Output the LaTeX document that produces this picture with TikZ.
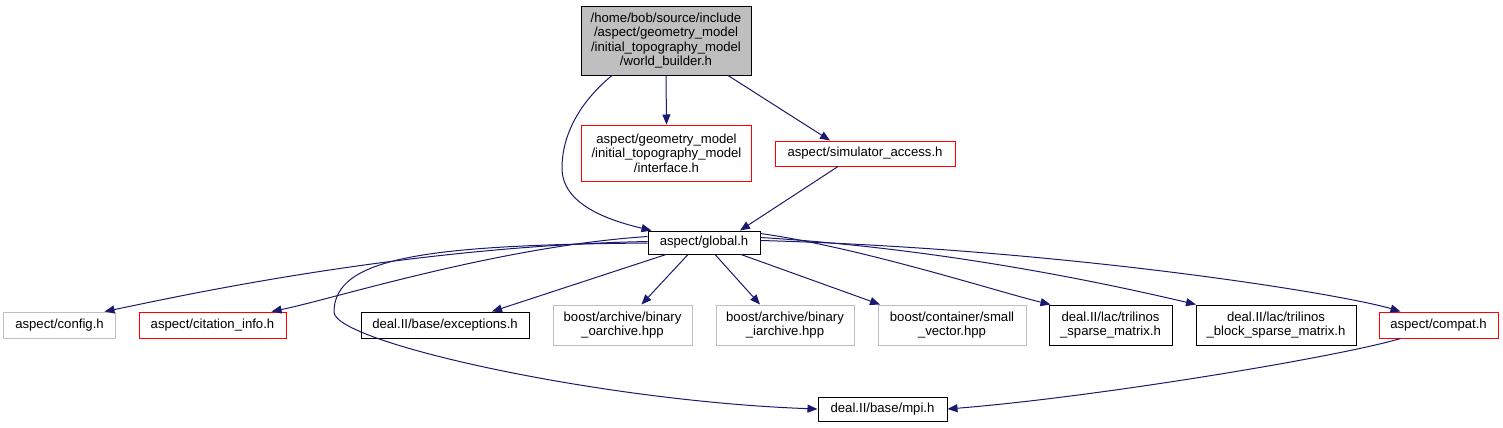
\documentclass[tikz,border=0pt]{standalone}
\usepackage{fontspec}
\setmainfont{Liberation Sans}
\usetikzlibrary{arrows.meta}
\definecolor{edgeblue}{HTML}{191970}
\definecolor{lgray}{HTML}{BFBFBF}
\definecolor{dred}{HTML}{FF0000}
\begin{document}
\begin{tikzpicture}[x=1bp,y=-1bp,
  box/.style={draw,line width=1bp,inner sep=0pt,align=center,font=\fontsize{13.2}{14.4}\selectfont},
  blk/.style={box,draw=black},
  gry/.style={box,draw=lgray},
  rd/.style={box,draw=dred},
  edge/.style={draw=edgeblue,line width=1bp,-{Triangle[length=10bp,width=8bp]},fill=none},
]
\useasboundingbox (0,0) rectangle (1503,427);
% nodes
\node[blk,fill=lgray,minimum width=170bp,minimum height=69bp] (top) at (666,40.5)
  {/home/bob/source/include\\/aspect/geometry\_model\\/initial\_topography\_model\\/world\_builder.h};
\node[rd,minimum width=170bp,minimum height=56bp] (iface) at (666.5,153)
  {aspect/geometry\_model\\/initial\_topography\_model\\/interface.h};
\node[rd,minimum width=180bp,minimum height=25bp] (sim) at (865,153.5) {aspect/simulator\_access.h};
\node[blk,minimum width=112bp,minimum height=23bp] (glob) at (704,242.5) {aspect/global.h};
\node[gry,minimum width=111bp,minimum height=26bp] (config) at (59.5,325) {aspect/config.h};
\node[rd,minimum width=147bp,minimum height=26bp] (cit) at (212.5,325) {aspect/citation\_info.h};
\node[blk,minimum width=168bp,minimum height=26bp] (exc) at (445,325) {deal.II/base/exceptions.h};
\node[gry,minimum width=139bp,minimum height=40bp] (oarch) at (622.5,325) {boost/archive/binary\\\_oarchive.hpp};
\node[gry,minimum width=138bp,minimum height=40bp] (iarch) at (785,325) {boost/archive/binary\\\_iarchive.hpp};
\node[gry,minimum width=148bp,minimum height=40bp] (small) at (952,325) {boost/container/small\\\_vector.hpp};
\node[blk,minimum width=123bp,minimum height=40bp] (tsp) at (1110.5,325) {deal.II/lac/trilinos\\\_sparse\_matrix.h};
\node[blk,minimum width=160bp,minimum height=40bp] (bsp) at (1276,325) {deal.II/lac/trilinos\\\_block\_sparse\_matrix.h};
\node[rd,minimum width=119bp,minimum height=26bp] (compat) at (1438.5,325) {aspect/compat.h};
\node[blk,minimum width=129bp,minimum height=24bp] (mpi) at (882.5,409) {deal.II/base/mpi.h};
\coordinate (tl) at (562,168);
\coordinate (ml) at (334,312);
% edges
\path[edge] ([xshift=-54bp]top.south) .. controls +(-27,22) and +(0,-38) .. (tl)
   .. controls +(0,37) and +(-42,-10) .. ([xshift=4bp]glob.north west);
\path[edge] (top.south) -- (iface.north);
\path[edge] ([xshift=62bp]top.south) -- ([xshift=-35bp]sim.north);
\path[edge] ([xshift=-27bp]sim.south) -- ([xshift=36bp]glob.north);
\path[edge] ([yshift=1bp]glob.west) .. controls +(-250,5) and +(60,-12) .. ([xshift=45bp]config.north);
\path[edge] ([yshift=6bp]glob.west) .. controls +(-150,10) and +(60,-12) .. ([xshift=59bp]cit.north);
\path[edge] ([xshift=-38bp]glob.south) -- ([xshift=47bp]exc.north);
\path[edge] ([xshift=-16bp]glob.south) -- ([xshift=19bp]oarch.north);
\path[edge] ([xshift=11bp]glob.south) -- ([xshift=-25bp]iarch.north);
\path[edge] ([xshift=37bp]glob.south) -- ([xshift=-72bp]small.north);
\path[edge] ([yshift=9bp]glob.east) .. controls +(100,14) and +(-50,-12) .. ([xshift=-60bp]tsp.north);
\path[edge] ([yshift=5bp]glob.east) .. controls +(200,12) and +(-60,-14) .. ([xshift=-80bp]bsp.north);
\path[edge] ([yshift=2bp]glob.east) .. controls +(300,8) and +(-60,-18) .. ([xshift=-38bp]compat.north);
\path[edge] ([yshift=-0.5bp]glob.west) .. controls +(-220,2) and +(0,-55) .. (ml)
   .. controls +(0,30) and +(-220,-8) .. (mpi.west);
\path[edge] ([xshift=-38bp]compat.south) .. controls +(-60,18) and +(150,-12) .. (mpi.east);
\end{tikzpicture}
\end{document}
